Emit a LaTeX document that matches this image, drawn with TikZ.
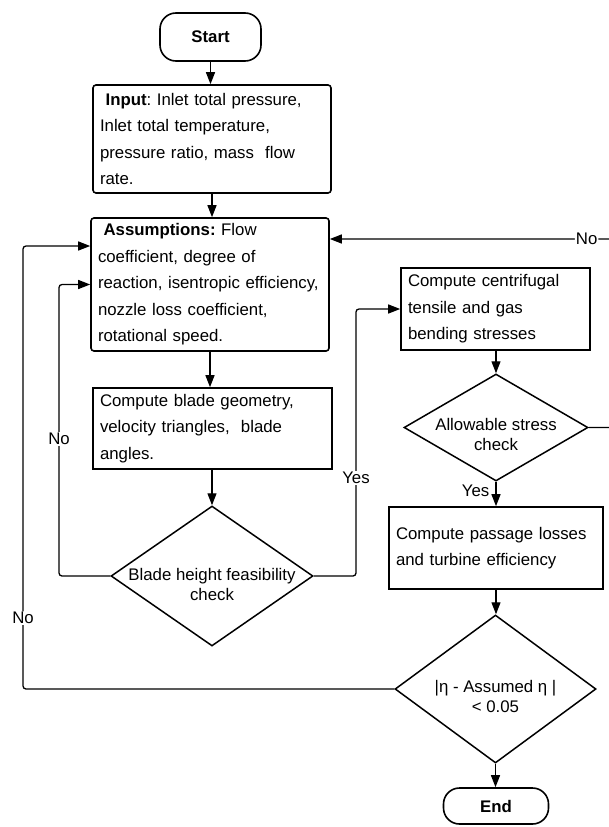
\documentclass[tikz,border=0pt]{standalone}
\usepackage{fontspec}
\setmainfont{Liberation Sans}
\frenchspacing
\usetikzlibrary{arrows.meta,shapes.geometric,calc}

\begin{document}
\begin{tikzpicture}[x=1pt, y=-1pt,
    terminal/.style={draw, line width=1.6pt, rounded corners=16pt, minimum width=101pt, minimum height=48pt, font=\fontsize{16.8}{20}\selectfont\bfseries},
    process/.style={draw, line width=1.6pt, align=left, inner xsep=7pt, inner ysep=0pt, font=\fontsize{16.8}{26.5}\selectfont},
    decision/.style={draw, diamond, line width=1.5pt, inner sep=0pt},
    dtext/.style={align=center, font=\fontsize{16.8}{20}\selectfont},
    flow/.style={line width=1.3pt, rounded corners=3pt, -{Triangle[width=9pt,length=12pt]}},
    lbl/.style={fill=white, inner sep=1pt, font=\fontsize{16.8}{20}\selectfont}]
    \useasboundingbox (0,0) rectangle (609,827);

    % Start and end
    \node[terminal] (start) at (210.5,37) {Start};
    \node[terminal, minimum width=105pt, minimum height=36pt] (end) at (496,806) {End};

    % Boxes
    \node[process, rounded corners=3pt, text width=224pt, minimum width=238pt, minimum height=108pt] (input) at (212,139) {\ \textbf{Input}: Inlet total pressure,\\Inlet total temperature,\\pressure ratio, mass~ flow\\rate.};
    \node[process, rounded corners=3pt, text width=224pt, minimum width=238pt, minimum height=133pt] (assum) at (210,284.5) {\ \textbf{Assumptions:} Flow\\coefficient, degree of\\reaction, isentropic efficiency,\\nozzle loss coefficient,\\rotational speed.};
    \node[process, text width=225pt, minimum width=239pt, minimum height=81pt] (blade) at (212.5,428.5) {Compute blade geometry,\\velocity triangles,~ blade\\angles.};
    \node[process, text width=175pt, minimum width=189pt, minimum height=82pt] (cent) at (495.5,309) {Compute centrifugal\\tensile and gas\\bending stresses};
    \node[process, text width=200pt, minimum width=214pt, minimum height=82pt] (pass) at (496,548) {Compute passage losses\\and turbine efficiency};

    % Checks
    \node[decision, minimum width=202pt, minimum height=140pt] (bhc) at (212,576) {};
    \node[dtext] (bhctext) at (212,584.5) {Blade height feasibility\\check};
    \node[decision, minimum width=184pt, minimum height=107pt] (allow) at (496,427.5) {};
    \node[dtext] (allowtext) at (496,434.5) {Allowable stress\\check};
    \node[decision, minimum width=201pt, minimum height=148pt] (eta) at (495.5,689) {};
    \node[dtext] (etatext) at (495.5,696) {|η - Assumed η |\\< 0.05};

    % Main flow
    \draw[flow] (start.south) -- (start.south |- input.north);
    \draw[flow] (input.south) -- (input.south |- assum.north);
    \draw[flow] (assum.south) -- (assum.south |- blade.north);
    \draw[flow] (bhc.north |- blade.south) -- (bhc.north);
    \draw[flow] (allow.north |- cent.south) -- (allow.north);
    \draw[flow] (allow.south) -- node[lbl, left, xshift=-5pt, pos=0.35] {Yes} (allow.south |- pass.north);
    \draw[flow] (pass.south) -- (pass.south |- eta.north);
    \draw[flow] (eta.south) -- (eta.south |- end.north);

    % Loops
    \draw[flow] (bhc.west) -- (59,576) -- node[lbl, pos=0.47] {No} (59,284.5) -- (assum.west);
    \draw[flow] (bhc.east) -- (356,576) -- node[lbl, pos=0.367] {Yes} (356,309) -- (cent.west);
    \draw[flow] (eta.west) -- (23,689) -- node[lbl, pos=0.16] {No} (23,246) -- ($(assum.west)+(0,-38.5)$);
    \draw[flow] (allow.east) -- (620,427.5) -- (620,239) -- node[lbl, pos=0.115] {No} ($(assum.east)+(0,-45.5)$);
\end{tikzpicture}
\end{document}
